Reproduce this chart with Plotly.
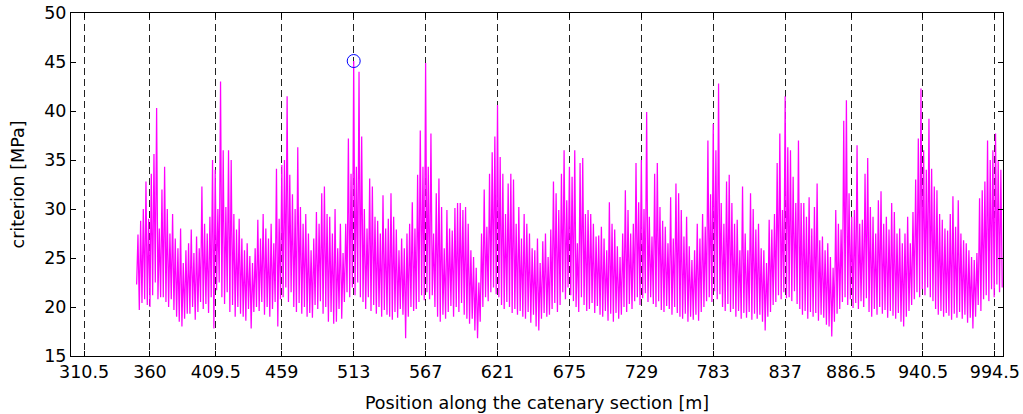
import numpy as np
import plotly.graph_objects as go

# Tick positions (span boundaries along the catenary section, m)
tick_positions = [310.5, 360, 409.5, 459, 513, 567, 621, 675, 729, 783, 837, 886.5, 940.5, 994.5]
tick_labels = ["310.5", "360", "409.5", "459", "513", "567", "621", "675", "729", "783", "837", "886.5", "940.5", "994.5"]

# Local maxima of the criterion (every 2 m, starting at 351 m)
criterion_peaks = [
    27.4, 28.8, 30.0, 32.8, 29.0,  33.6, 35.6, 40.3, 28.0, 32.0,
    34.3, 30.0, 27.5, 29.5, 27.0,  26.0, 28.0, 24.5, 25.8, 26.5,
    27.9, 25.5, 27.2, 26.0, 32.3,  28.5, 27.5, 29.2, 35.0, 34.0,
    30.0, 43.0, 36.0, 30.2, 36.0,  35.0, 29.5, 27.9, 29.0, 27.0,
    25.8, 26.5, 25.2, 24.5, 26.0,  28.9, 27.0, 29.5, 28.0, 27.0,
    28.5, 26.5, 34.1, 29.0, 34.5,  35.0, 41.5, 33.5, 31.5, 30.0,
    36.3, 30.2, 28.5, 29.5, 27.5,  25.8, 27.0, 29.7, 28.5, 31.6,
    32.3, 29.5, 29.2, 27.5, 30.0,  26.0, 28.5, 25.5, 28.5, 37.2,
    33.6, 45.1, 34.3, 44.0, 37.4,  30.0, 28.0, 33.1, 32.3, 29.2,
    28.8, 27.5, 31.4, 28.0, 29.0,  31.6, 29.2, 27.9, 25.8, 27.0,
    26.0, 27.5, 28.5, 30.7, 28.0,  33.5, 38.0, 34.3, 44.9, 34.3,
    37.7, 27.5, 31.6, 33.1, 30.2,  26.0, 29.9, 28.0, 27.8, 30.1,
    30.6, 30.6, 29.9, 30.2, 28.5,  25.8, 25.1, 24.0, 22.5, 27.5,
    32.0, 28.2, 33.6, 35.8, 37.4,  40.6, 35.3, 33.6, 29.5, 32.6,
    33.6, 33.0, 28.5, 30.2, 27.0,  29.5, 28.5, 27.5, 26.0, 25.8,
    27.0, 24.5, 26.7, 27.5, 25.1,  27.9, 32.8, 31.6, 29.9, 33.6,
    36.0, 30.9, 34.3, 33.3, 36.0,  26.5, 34.7, 35.2, 29.5, 29.9,
    29.5, 28.5, 27.2, 27.3, 28.2,  27.0, 25.8, 30.7, 28.5, 27.9,
    26.2, 25.1, 27.5, 31.9, 29.9,  27.5, 28.5, 34.7, 30.7, 35.0,
    30.0, 39.9, 29.2, 27.2, 33.6,  34.7, 30.2, 28.8, 28.2, 26.5,
    31.2, 27.0, 32.6, 31.6, 29.9,  27.2, 29.2, 26.2, 24.8, 25.8,
    28.5, 27.0, 29.5, 28.2, 37.0,  31.5, 38.7, 36.0, 42.8, 30.6,
    28.5, 32.8, 33.5, 30.6, 28.5,  28.9, 25.8, 32.3, 27.5, 25.8,
    31.6, 30.0, 27.9, 28.5, 26.0,  25.8, 24.5, 28.9, 27.9, 29.5,
    34.7, 37.7, 29.9, 41.5, 36.3,  36.0, 33.3, 30.6, 37.0, 30.6,
    30.6, 29.2, 31.2, 28.0, 30.2,  32.6, 26.8, 27.2, 25.8, 26.5,
    25.1, 24.0, 29.9, 28.5, 27.9,  39.0, 41.1, 31.6, 29.2, 29.9,
    36.5, 28.5, 28.9, 33.6, 35.2,  30.2, 29.2, 27.5, 30.9, 31.8,
    28.5, 29.2, 27.9, 30.6, 29.7,  27.5, 28.0, 26.5, 27.5, 29.2,
    26.5, 29.7, 33.0, 37.2, 42.3,  36.0, 34.0, 39.2, 34.1, 32.3,
    31.9, 29.5, 28.9, 28.0, 27.8,  29.5, 31.3, 28.2, 30.9, 27.5,
    26.8, 26.5, 25.8, 25.1, 24.8,  25.5, 31.1, 31.9, 32.8, 37.0,
    35.0, 36.0, 37.7, 35.0, 34.0,
]

# Local minima of the criterion (every 2 m, starting at 350 m)
criterion_troughs = [
    22.3, 19.7, 20.4, 20.8, 20.2,  20.0, 21.2, 22.5, 20.8, 21.0,
    21.0, 20.5, 20.0, 20.8, 19.7,  19.0, 18.5, 18.0, 18.8, 19.3,
    19.3, 20.0, 18.7, 19.5, 20.5,  19.8, 20.3, 19.4, 21.0, 17.8,
    21.7, 22.5, 21.0, 20.3, 21.5,  19.5, 20.2, 19.0, 20.0, 19.3,
    19.0, 18.6, 19.8, 17.8, 19.5,  20.0, 19.6, 20.5, 19.2, 20.0,
    19.0, 19.8, 20.5, 18.0, 20.8,  21.0, 22.0, 20.5, 21.5, 20.0,
    19.5, 20.4, 19.3, 20.0, 19.0,  19.4, 18.9, 20.2, 19.8, 20.6,
    19.3, 20.0, 18.5, 19.5, 18.3,  18.5, 19.8, 18.8, 20.5, 21.5,
    21.0, 22.0, 21.2, 22.5, 21.0,  20.5, 19.8, 21.0, 19.6, 20.2,
    19.3, 20.0, 19.0, 19.7, 19.2,  19.0, 18.7, 19.5, 18.9, 19.8,
    19.2, 16.8, 19.0, 20.0, 19.6,  19.8, 20.5, 21.2, 20.7, 21.5,
    20.8, 21.2, 20.0, 19.0, 18.5,  19.2, 18.8, 19.5, 20.1, 19.0,
    20.0, 19.5, 20.4, 19.2, 18.8,  18.3, 18.8, 17.6, 16.8, 18.5,
    20.0, 21.0, 20.6, 21.5, 22.0,  21.3, 21.0, 20.2, 19.8, 20.5,
    20.0, 19.4, 19.8, 19.2, 19.6,  19.0, 18.8, 19.5, 18.4, 19.2,
    18.0, 17.6, 18.8, 19.4, 19.0,  19.2, 19.8, 20.4, 19.5, 20.2,
    21.5, 20.8, 22.0, 21.2, 20.6,  20.0, 19.5, 21.0, 20.2, 19.6,
    19.8, 20.4, 19.4, 20.1, 19.2,  19.0, 19.6, 18.6, 19.3, 18.5,
    19.4, 18.8, 19.2, 20.0, 19.5,  20.3, 19.8, 20.6, 21.0, 20.2,
    20.9, 21.4, 20.5, 21.0, 20.3,  20.0, 20.6, 19.7, 19.5, 20.1,
    19.8, 19.2, 20.0, 19.4, 19.0,  18.8, 19.3, 18.5, 19.0, 18.7,
    19.2, 18.6, 19.5, 20.0, 20.6,  21.0, 20.5, 21.6, 20.8, 21.3,
    20.0, 19.6, 20.3, 19.5, 19.8,  19.0, 19.6, 18.8, 19.4, 18.9,
    19.5, 18.7, 19.3, 18.8, 19.2,  18.5, 17.6, 19.0, 19.5, 20.2,
    20.5, 21.2, 20.8, 21.5, 20.9,  21.0, 20.6, 21.6, 20.3, 19.8,
    19.2, 19.6, 18.8, 19.5, 19.0,  19.4, 18.6, 19.2, 18.9, 18.2,
    18.0, 17.0, 18.5, 19.3, 19.8,  20.5, 21.0, 20.2, 20.8, 19.9,
    20.4, 19.8, 20.6, 20.0, 20.9,  19.5, 19.0, 19.8, 19.2, 20.0,
    19.3, 19.7, 18.9, 19.6, 19.1,  18.8, 19.4, 18.5, 18.0, 19.0,
    19.6, 20.2, 20.8, 21.5, 21.0,  21.8, 21.2, 22.0, 21.0, 20.6,
    19.8, 19.2, 19.6, 19.0, 19.4,  19.1, 18.7, 19.3, 18.9, 19.5,
    18.8, 19.2, 18.4, 18.9, 17.8,  19.0, 20.2, 19.6, 20.8, 21.2,
    20.6, 21.8, 21.0, 22.3, 21.5,
    22.0,
]

trough_pos = np.arange(350, 350 + 2 * len(criterion_troughs), 2)
peak_pos = np.arange(351, 351 + 2 * len(criterion_peaks), 2)

# Interleave troughs and peaks into one signal
pos, crit = [], []
for i in range(len(criterion_troughs)):
    pos.append(trough_pos[i]); crit.append(criterion_troughs[i])
    if i < len(criterion_peaks):
        pos.append(peak_pos[i]); crit.append(criterion_peaks[i])

imax = int(np.argmax(crit))

FONT = "DejaVu Sans, Verdana, sans-serif"
FS = 17.5

fig = go.Figure()
fig.add_trace(go.Scatter(x=pos, y=crit, mode="lines",
                         line=dict(color="#FF00FF", width=1.25), showlegend=False,
                         hoverinfo="skip"))
fig.add_trace(go.Scatter(x=[pos[imax]], y=[crit[imax]], mode="markers",
                         marker=dict(symbol="circle-open", size=13,
                                     color="#0000FF", line=dict(width=1, color="#0000FF")),
                         showlegend=False, hoverinfo="skip"))

fig.update_layout(
    width=1023, height=414,
    margin=dict(l=71, r=20, t=13, b=58),
    paper_bgcolor="white", plot_bgcolor="white",
    font=dict(family=FONT, size=FS, color="black"),
    hovermode=False,
)
fig.update_xaxes(
    range=[300.7, 1000.6], automargin=False,
    tickvals=tick_positions, ticktext=tick_labels,
    showgrid=True, gridcolor="#222222", gridwidth=1, griddash="7px,4px",
    showline=True, linecolor="black", linewidth=1, mirror="ticks",
    ticks="inside", ticklen=5, tickcolor="black",
    zeroline=False,
    title=dict(text="Position along the catenary section [m]", font=dict(size=FS)),
    tickfont=dict(size=FS),
)
fig.update_yaxes(
    range=[15, 50], dtick=5, tick0=15, automargin=False,
    showgrid=False,
    showline=True, linecolor="black", linewidth=1, mirror="ticks",
    ticks="inside", ticklen=5, tickcolor="black",
    zeroline=False,
    title=dict(text="criterion [MPa]", font=dict(size=FS)),
    tickfont=dict(size=FS),
)

fig.write_html("out.html", config={"displayModeBar": False},
               post_script="document.body.style.margin='0';")
